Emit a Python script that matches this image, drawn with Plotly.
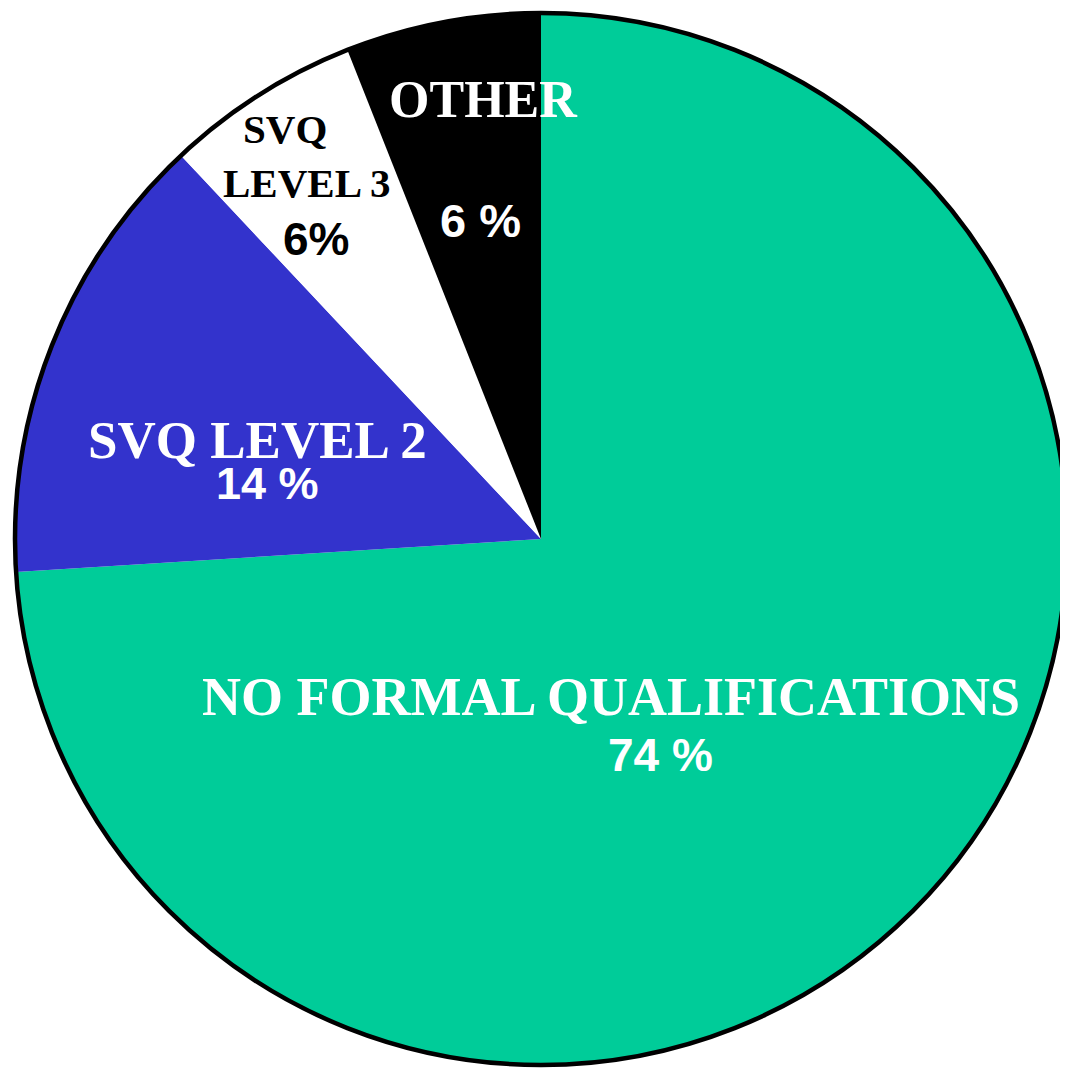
import plotly.graph_objects as go

categories = ["NO FORMAL QUALIFICATIONS", "SVQ LEVEL 2", "SVQ LEVEL 3", "OTHER"]
values = [74, 14, 6, 6]
pct_labels = ["74 %", "14 %", "6%", "6 %"]
colors = ["#00CC99", "#3333CC", "#FFFFFF", "#000000"]

# page body has an 8px margin; figure sized to fit inside the window
OFF = 8
W, H = 1060, 1066
# target circle on screen: x 15..1067, centre y 539
sx0, sx1 = 15, 1067
syc = 539
r = (sx1 - sx0) / 2
fx0, fx1 = sx0 - OFF, sx1 - OFF
fyc = syc - OFF
dom_x = [fx0 / W, fx1 / W]
dom_y = [1 - (fyc + r) / H, 1 - (fyc - r) / H]

fig = go.Figure()
fig.add_trace(go.Pie(
    labels=categories, values=values, sort=False, direction="clockwise",
    rotation=0, marker=dict(colors=colors, line=dict(width=0)),
    textinfo="none", hoverinfo="label+value", showlegend=False,
    domain=dict(x=dom_x, y=dom_y),
))
# outline ring
fig.add_trace(go.Pie(
    labels=["outline"], values=[1], sort=False,
    marker=dict(colors=["rgba(0,0,0,0)"], line=dict(color="black", width=4.5)),
    textinfo="none", hoverinfo="skip", showlegend=False,
    domain=dict(x=dom_x, y=dom_y),
))

SERIF = "Liberation Serif"
SANS = "Liberation Sans"

def ann(text, px, py, size, family, color):
    fig.add_annotation(
        text=f"<b>{text}</b>", x=(px - OFF) / W, y=1 - (py - OFF) / H,
        xref="paper", yref="paper",
        xanchor="center", yanchor="middle", showarrow=False,
        font=dict(family=family, size=size, color=color),
    )

# OTHER
ann(categories[3], 483, 100, 52, SERIF, "white")
ann(pct_labels[3], 480, 220, 47, SANS, "white")
# SVQ LEVEL 3
ann("SVQ", 285, 129, 41, SERIF, "black")
ann("LEVEL 3", 306, 183, 41, SERIF, "black")
ann(pct_labels[2], 316, 239, 46, SANS, "black")
# SVQ LEVEL 2
ann(categories[1], 257, 440, 53, SERIF, "white")
ann(pct_labels[1], 267, 484, 45, SANS, "white")
# NO FORMAL QUALIFICATIONS
ann(categories[0], 611, 697, 54, SERIF, "white")
ann(pct_labels[0], 660, 755, 46, SANS, "white")

fig.update_layout(
    width=W, height=H, margin=dict(l=0, r=0, t=0, b=0),
    paper_bgcolor="white", plot_bgcolor="white",
)
fig.write_html("out.html")
